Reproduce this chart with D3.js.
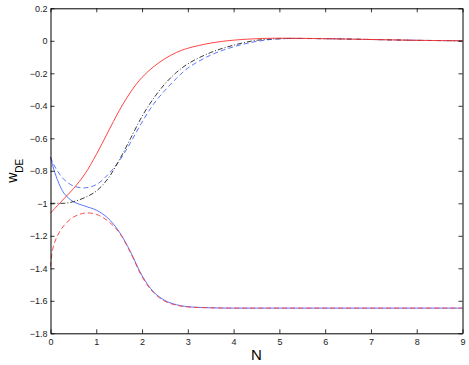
<!DOCTYPE html>
<html>
<head>
<meta charset="utf-8">
<script src="https://cdn.jsdelivr.net/npm/d3@7"></script>
<style>
  body { margin: 0; background: #fff; }
  text { font-family: "Liberation Sans", Arial, sans-serif; }
</style>
</head>
<body>
<svg id="mainFrame"></svg>
<script>
// values
const N = [0, 0.05, 0.15, 0.3, 0.5, 0.75, 1, 1.25, 1.5, 1.75, 2, 2.25, 2.5, 2.75, 3, 3.5, 4, 4.5, 5, 6, 7, 8, 9];

const redSolid   = [-1.06, -1.045, -1.015, -0.97, -0.91, -0.82, -0.70, -0.565, -0.43, -0.315, -0.225, -0.16, -0.11, -0.072, -0.046, -0.014, 0.004, 0.013, 0.016, 0.013, 0.008, 0.003, 0.0];
const blackDash  = [-1.0, -1.0, -1.0, -1.0, -0.99, -0.965, -0.925, -0.85, -0.735, -0.6, -0.465, -0.355, -0.265, -0.195, -0.142, -0.072, -0.027, 0.003, 0.013, 0.013, 0.008, 0.003, 0.0];
const blueDash   = [-0.715, -0.75, -0.80, -0.855, -0.893, -0.905, -0.885, -0.825, -0.74, -0.625, -0.50, -0.39, -0.305, -0.232, -0.168, -0.088, -0.037, -0.004, 0.012, 0.013, 0.008, 0.003, 0.0];
const blueSolid  = [-0.715, -0.77, -0.855, -0.94, -0.99, -1.017, -1.042, -1.09, -1.175, -1.30, -1.445, -1.545, -1.598, -1.624, -1.636, -1.643, -1.645, -1.645, -1.645, -1.645, -1.645, -1.645, -1.645];
const redDash    = [-1.39, -1.28, -1.2, -1.135, -1.085, -1.06, -1.068, -1.108, -1.18, -1.305, -1.452, -1.55, -1.603, -1.627, -1.638, -1.643, -1.645, -1.645, -1.645, -1.645, -1.645, -1.645, -1.645];

const xTicks = [0, 1, 2, 3, 4, 5, 6, 7, 8, 9];
const yTicks = [0.2, 0, -0.2, -0.4, -0.6, -0.8, -1, -1.2, -1.4, -1.6, -1.8];

const series = [
    {name: 'blueSolid', values: blueSolid, color: '#4a66ff', dash: null},
    {name: 'redDash', values: redDash, color: '#ff3a3a', dash: '5,3'},
    {name: 'blueDash', values: blueDash, color: '#4a66ff', dash: '5,3'},
    {name: 'blackDash', values: blackDash, color: '#222', dash: '5,2,1,2'},
    {name: 'redSolid', values: redSolid, color: '#ff3030', dash: null}
];

const width = 469, height = 365;
const svg = d3.select('#mainFrame')
    .attr('width', width)
    .attr('height', height);

const margin = {top: 8.3, right: 6.5, bottom: 31.7, left: 50.5};
const x = d3.scaleLinear().domain([0, 9]).range([margin.left, width - margin.right]);
const y = d3.scaleLinear().domain([-1.8, 0.2]).range([height - margin.bottom, margin.top]);

const fmt = d => d === 0 ? '0' : d3.format('')(d).replace('-', '\u2212');

// lines
const line = d3.line()
    .x((d, i) => x(N[i]))
    .y(d => y(d))
    .curve(d3.curveCatmullRom.alpha(0.5));

svg.append('g')
    .selectAll('path')
    .data(series)
    .join('path')
    .attr('d', d => line(d.values))
    .attr('fill', 'none')
    .attr('stroke', d => d.color)
    .attr('stroke-width', 0.9)
    .attr('stroke-dasharray', d => d.dash);

// axes, ticks pointing inward on all four sides
const tickLen = 4;
svg.append('g')
    .attr('transform', `translate(0,${y(-1.8)})`)
    .call(d3.axisBottom(x).tickValues(xTicks).tickSizeInner(-tickLen).tickSizeOuter(0).tickPadding(5).tickFormat(fmt));
svg.append('g')
    .attr('transform', `translate(0,${y(0.2)})`)
    .call(d3.axisTop(x).tickValues(xTicks).tickSizeInner(-tickLen).tickSizeOuter(0).tickFormat(''));
svg.append('g')
    .attr('transform', `translate(${x(0)},0)`)
    .call(d3.axisLeft(y).tickValues(yTicks).tickSizeInner(-tickLen).tickSizeOuter(0).tickPadding(3).tickFormat(fmt));
svg.append('g')
    .attr('transform', `translate(${x(9)},0)`)
    .call(d3.axisRight(y).tickValues(yTicks).tickSizeInner(-tickLen).tickSizeOuter(0).tickFormat(''));

svg.selectAll('.domain').attr('stroke', '#000').attr('stroke-width', 1);
svg.selectAll('.tick line').attr('stroke', '#000').attr('stroke-width', 0.8);
svg.selectAll('.tick text')
    .attr('font-size', 9)
    .attr('font-family', '"Liberation Sans", Arial, sans-serif')
    .attr('fill', '#222');

// axis labels
svg.append('text')
    .attr('x', (x(0) + x(9)) / 2)
    .attr('y', 359.5)
    .attr('text-anchor', 'middle')
    .attr('font-size', 15)
    .text('N');

const yl = svg.append('text')
    .attr('transform', `translate(16.7,${(y(0.2) + y(-1.8)) / 2}) rotate(-90)`)
    .attr('text-anchor', 'middle')
    .attr('font-size', 14);
yl.append('tspan').text('w');
yl.append('tspan').attr('font-size', 10).attr('dy', 6.5).text('DE');
</script>
</body>
</html>
